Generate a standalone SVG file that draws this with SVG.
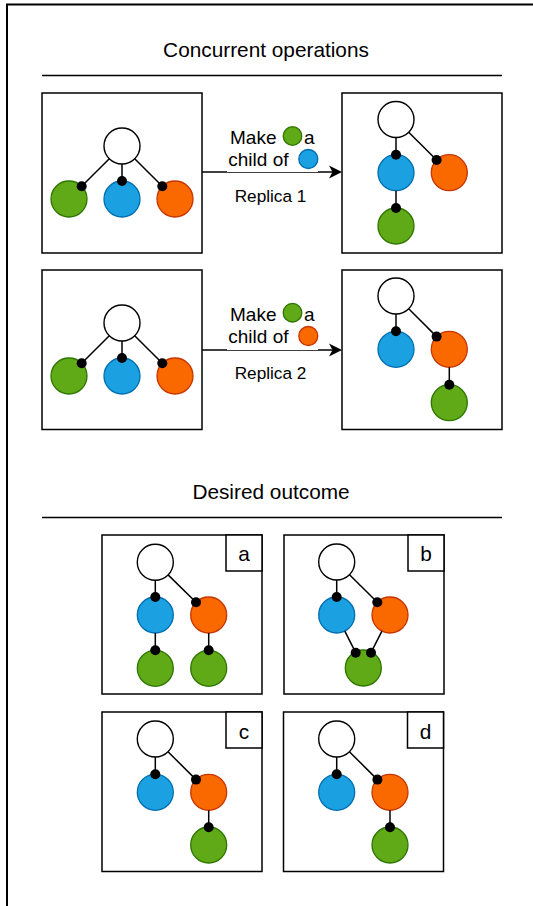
<svg xmlns="http://www.w3.org/2000/svg" width="533" height="906" viewBox="0 0 533 906">
<style>
text{font-family:"Liberation Sans",Arial,sans-serif;fill:#000}
.title{font-size:20.8px;text-anchor:middle}
.lbl{font-size:19px}
.rep{font-size:17.2px;text-anchor:middle}
.tag{font-size:20.8px;text-anchor:middle}
.box{fill:#fff;stroke:#000;stroke-width:1.5}
.root{fill:#fff;stroke:#000;stroke-width:1.4}
.g{fill:#60a917;stroke:#2d7600;stroke-width:1.3}
.b{fill:#1ba1e2;stroke:#006eaf;stroke-width:1.3}
.o{fill:#fa6800;stroke:#c73500;stroke-width:1.3}
.e{stroke:#000;stroke-width:1.5;fill:none}
.dot{fill:#000}
.rule{stroke:#000;stroke-width:1.5}
</style>
<rect x="7" y="4.5" width="700" height="1000" fill="#fff" stroke="#000" stroke-width="2"/>

<g id="heading-concurrent">
<text class="title" x="266" y="57">Concurrent operations</text>
<line class="rule" x1="42" y1="75.5" x2="502" y2="75.5"/>
</g>

<g id="panel-1">
<rect class="box" x="42" y="93" width="160" height="160"/>
<circle class="root" cx="122" cy="146" r="18"/>
<circle class="g" cx="69" cy="199" r="18"/>
<circle class="b" cx="122" cy="199" r="18"/>
<circle class="o" cx="175" cy="199" r="18"/>
</g>

<g id="panel-2">
<rect class="box" x="342" y="93" width="160" height="160"/>
<circle class="root" cx="396" cy="119.5" r="18"/>
<circle class="b" cx="396" cy="172.7" r="18"/>
<circle class="o" cx="449.3" cy="172.7" r="18"/>
<circle class="g" cx="396" cy="226" r="18"/>
</g>

<g id="panel-3">
<rect class="box" x="42" y="270" width="160" height="159.5"/>
<circle class="root" cx="122" cy="323" r="18"/>
<circle class="g" cx="69" cy="376" r="18"/>
<circle class="b" cx="122" cy="376" r="18"/>
<circle class="o" cx="175" cy="376" r="18"/>
</g>

<g id="panel-4">
<rect class="box" x="342" y="270" width="160" height="159.5"/>
<circle class="root" cx="396" cy="296" r="18"/>
<circle class="b" cx="396" cy="349.3" r="18"/>
<circle class="o" cx="449.3" cy="349.3" r="18"/>
<circle class="g" cx="449.3" cy="402.7" r="18"/>
</g>

<g id="heading-desired">
<text class="title" x="271" y="499">Desired outcome</text>
<line class="rule" x1="42" y1="517.5" x2="502" y2="517.5"/>
</g>

<g id="panel-a">
<rect class="box" x="102" y="535" width="160" height="159"/>
<rect class="box" x="226" y="535" width="36" height="36"/>
<text class="tag" x="244" y="561">a</text>
<circle class="root" cx="155.3" cy="562.3" r="18"/>
<circle class="b" cx="155.3" cy="615" r="18"/>
<circle class="o" cx="208.7" cy="615" r="18"/>
<circle class="g" cx="155.3" cy="668.3" r="18"/>
<circle class="g" cx="208.7" cy="668.3" r="18"/>
</g>

<g id="panel-b">
<rect class="box" x="284" y="535" width="160" height="159"/>
<rect class="box" x="408" y="535" width="36" height="36"/>
<text class="tag" x="426" y="561">b</text>
<circle class="root" cx="336.7" cy="562" r="18"/>
<circle class="b" cx="336.7" cy="615" r="18"/>
<circle class="o" cx="390" cy="615" r="18"/>
<circle class="g" cx="363.3" cy="668" r="18"/>
</g>

<g id="panel-c">
<rect class="box" x="102" y="712" width="160" height="159.5"/>
<rect class="box" x="226" y="712" width="36" height="36"/>
<text class="tag" x="244" y="738.5">c</text>
<circle class="root" cx="155.3" cy="739" r="18"/>
<circle class="b" cx="155.3" cy="792.3" r="18"/>
<circle class="o" cx="208.7" cy="792.3" r="18"/>
<circle class="g" cx="208.7" cy="845" r="18"/>
</g>

<g id="panel-d">
<rect class="box" x="283.5" y="712" width="160" height="159.5"/>
<rect class="box" x="407.5" y="712" width="36" height="36"/>
<text class="tag" x="425.5" y="738.5">d</text>
<circle class="root" cx="336.7" cy="739" r="18"/>
<circle class="b" cx="336.7" cy="792.3" r="18"/>
<circle class="o" cx="390" cy="792.3" r="18"/>
<circle class="g" cx="390" cy="845" r="18"/>
</g>

<g id="connectors">
<!-- panel 1 -->
<line class="e" x1="109.3" y1="158.7" x2="81.7" y2="186.3"/><circle class="dot" cx="81.7" cy="186.3" r="5"/>
<line class="e" x1="122" y1="164" x2="122" y2="181"/><circle class="dot" cx="122" cy="181" r="5"/>
<line class="e" x1="134.7" y1="158.7" x2="162.3" y2="186.3"/><circle class="dot" cx="162.3" cy="186.3" r="5"/>
<!-- panel 2 -->
<line class="e" x1="396" y1="137.5" x2="396" y2="154.7"/><circle class="dot" cx="396" cy="154.7" r="5"/>
<line class="e" x1="408.7" y1="132.2" x2="436.6" y2="160"/><circle class="dot" cx="436.6" cy="160" r="5"/>
<line class="e" x1="396" y1="190.7" x2="396" y2="208"/><circle class="dot" cx="396" cy="208" r="5"/>
<!-- panel 3 -->
<line class="e" x1="109.3" y1="335.7" x2="81.7" y2="363.3"/><circle class="dot" cx="81.7" cy="363.3" r="5"/>
<line class="e" x1="122" y1="341" x2="122" y2="358"/><circle class="dot" cx="122" cy="358" r="5"/>
<line class="e" x1="134.7" y1="335.7" x2="162.3" y2="363.3"/><circle class="dot" cx="162.3" cy="363.3" r="5"/>
<!-- panel 4 -->
<line class="e" x1="396" y1="314" x2="396" y2="331.3"/><circle class="dot" cx="396" cy="331.3" r="5"/>
<line class="e" x1="408.7" y1="308.7" x2="436.6" y2="336.6"/><circle class="dot" cx="436.6" cy="336.6" r="5"/>
<line class="e" x1="449.3" y1="367.3" x2="449.3" y2="384.7"/><circle class="dot" cx="449.3" cy="384.7" r="5"/>
<!-- panel a -->
<line class="e" x1="155.3" y1="580.3" x2="155.3" y2="597"/><circle class="dot" cx="155.3" cy="597" r="5"/>
<line class="e" x1="168.1" y1="574.9" x2="196" y2="602.3"/><circle class="dot" cx="196" cy="602.3" r="5"/>
<line class="e" x1="155.3" y1="633" x2="155.3" y2="650.3"/><circle class="dot" cx="155.3" cy="650.3" r="5"/>
<line class="e" x1="208.7" y1="633" x2="208.7" y2="650.3"/><circle class="dot" cx="208.7" cy="650.3" r="5"/>
<!-- panel b -->
<line class="e" x1="336.7" y1="580" x2="336.7" y2="597"/><circle class="dot" cx="336.7" cy="597" r="5"/>
<line class="e" x1="349.5" y1="574.7" x2="377.3" y2="602.3"/><circle class="dot" cx="377.3" cy="602.3" r="5"/>
<line class="e" x1="344.8" y1="631.1" x2="355.7" y2="652.7"/><circle class="dot" cx="355.7" cy="652.7" r="5"/>
<line class="e" x1="381.9" y1="631.1" x2="371" y2="652.7"/><circle class="dot" cx="371" cy="652.7" r="5"/>
<!-- panel c -->
<line class="e" x1="155.3" y1="757" x2="155.3" y2="774.3"/><circle class="dot" cx="155.3" cy="774.3" r="5"/>
<line class="e" x1="168" y1="751.7" x2="196" y2="779.6"/><circle class="dot" cx="196" cy="779.6" r="5"/>
<line class="e" x1="208.7" y1="810.3" x2="208.7" y2="827.3"/><circle class="dot" cx="208.7" cy="827.3" r="5"/>
<!-- panel d -->
<line class="e" x1="336.7" y1="757" x2="336.7" y2="774.3"/><circle class="dot" cx="336.7" cy="774.3" r="5"/>
<line class="e" x1="349.4" y1="751.7" x2="377.4" y2="779.6"/><circle class="dot" cx="377.4" cy="779.6" r="5"/>
<line class="e" x1="390" y1="810.3" x2="390" y2="827.3"/><circle class="dot" cx="390" cy="827.3" r="5"/>

<!-- operation arrows -->
<line class="e" x1="202" y1="172" x2="334" y2="172"/>
<path d="M342,172 L329,165.5 L332.5,172 L329,178.5 Z" fill="#000"/>
<line class="e" x1="202" y1="350" x2="334" y2="350"/>
<path d="M342,350 L329,343.5 L332.5,350 L329,356.5 Z" fill="#000"/>
</g>

<g id="label-replica-1">
<rect x="227" y="124" width="91" height="48" fill="#fff"/>
<text class="lbl" x="230" y="144">Make</text>
<circle class="g" cx="292.5" cy="136" r="9.3"/>
<text class="lbl" x="304" y="144">a</text>
<text class="lbl" x="228.3" y="165.7">child of</text>
<circle class="b" cx="308.3" cy="159" r="9.5"/>
<text class="rep" x="270.5" y="202">Replica 1</text>
</g>

<g id="label-replica-2">
<rect x="227" y="302" width="91" height="48" fill="#fff"/>
<text class="lbl" x="230" y="321">Make</text>
<circle class="g" cx="292.5" cy="312.7" r="9.3"/>
<text class="lbl" x="304" y="321">a</text>
<text class="lbl" x="228.3" y="342.7">child of</text>
<circle class="o" cx="308.3" cy="336" r="9.5"/>
<text class="rep" x="270.5" y="379">Replica 2</text>
</g>
</svg>
